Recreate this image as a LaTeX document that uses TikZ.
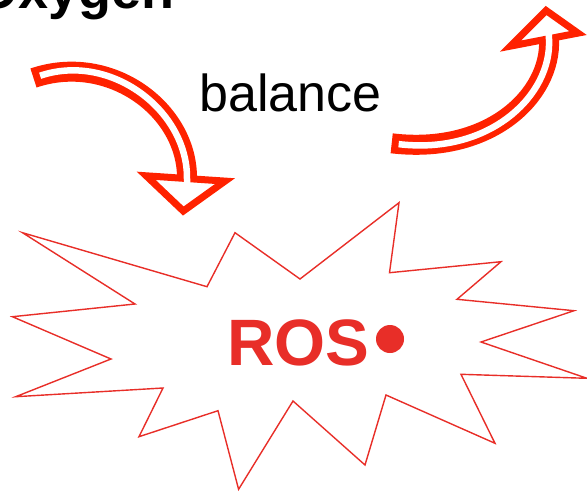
\documentclass[tikz,border=0pt]{standalone}
\usepackage{fontspec}
\setmainfont{Liberation Sans}
\definecolor{arrowred}{RGB}{255,34,0}
\definecolor{rosred}{RGB}{232,46,40}
\tikzset{
  band/.style={draw=arrowred, line width=20pt, line cap=butt},
  stripe/.style={draw=white, line width=6.5pt, line cap=butt},
  headtri/.style={draw=arrowred, fill=white, line width=7pt, line join=miter},
  burst/.style={draw=rosred, line width=1.4pt, line join=miter, fill=white},
  lbl/.style={anchor=base west, inner sep=0pt},
}
\begin{document}
\begin{tikzpicture}[x=1pt,y=-1pt]
\clip (0,0) rectangle (587,491);
\node[lbl, font=\fontsize{54}{54}\selectfont\bfseries] (oxy) at (-24,8) {Oxygen};
\node[lbl, font=\fontsize{52}{52}\selectfont] (bal) at (199,111.7) {balance};
% left arrow
\coordinate (lt) at (33.5,78);
\coordinate (le) at (187,179);
\draw[band] (lt) .. controls (110,52) and (188,110) .. (le);
\draw[headtri] (146.2,175.8) -- (225,181.1) -- (183.3,211) -- cycle;
\draw[stripe, shorten <=7pt] (lt) .. controls (110,52) and (188,110) .. (le) -- ++(0,10);
% right arrow
\coordinate (rt) at (391.7,143.3);
\coordinate (re) at (549,39);
\draw[band] (rt) .. controls (490,155) and (552,95) .. (re);
\draw[headtri] (510.5,46.1) -- (578,33.1) -- (546.1,10.5) -- cycle;
\draw[stripe, shorten <=7pt] (rt) .. controls (490,155) and (552,95) .. (re) -- ++(-0.5,-10);
% starburst
\draw[burst] (22.5,232.7) -- (207,286.7) -- (235,232.7) -- (300,279) -- (399,202.7)
  -- (389.5,272.7) -- (501,261.7) -- (457,299.3) -- (574,310.7) -- (481,342)
  -- (587,378.3) -- (461,374.3) -- (495,443.3) -- (386,395) -- (365,465)
  -- (293,401) -- (238.6,489.3) -- (218,410.7) -- (139,436.7) -- (163,388)
  -- (15.7,396.7) -- (111,359) -- (12.4,316.7) -- (135,304) -- cycle;
\node[lbl, text=rosred, font=\fontsize{65.6}{66}\selectfont\bfseries] (ros) at (227,365) {ROS};
\node[circle, fill=rosred, minimum size=28pt, inner sep=0pt] (dot) at (390,339) {};
\end{tikzpicture}
\end{document}
